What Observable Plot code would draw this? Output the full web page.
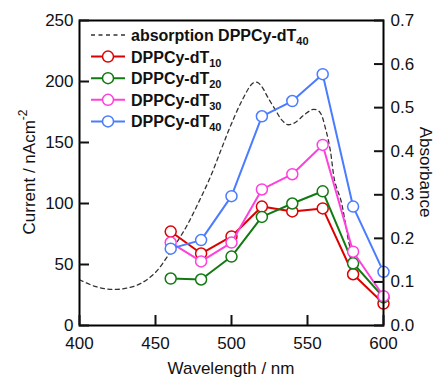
<!DOCTYPE html>
<html>
<head>
<meta charset="utf-8">
<script src="https://cdn.jsdelivr.net/npm/d3@7"></script>
<script src="https://cdn.jsdelivr.net/npm/@observablehq/plot@0.6"></script>
<style>
  html, body { margin: 0; padding: 0; background: #fff; }
  #chart { width: 435px; height: 380px; }
</style>
</head>
<body>
<div id="chart"></div>
<script>
// ---- data ----
const wavelengths = [460, 480, 500, 520, 540, 560, 580, 600];
const dT10 = [77, 59, 73, 97.5, 93.5, 96, 42, 18];
const dT20 = [38.5, 37.7, 56.5, 89, 100, 110, 51, 23];
const dT30 = [68, 52.5, 68, 111.5, 124, 148, 60.5, 24];
const dT40 = [63, 70, 106, 171.5, 184, 206, 97.5, 44];

const absWl  = [400, 410, 420, 430, 440, 450, 460, 470, 478, 486, 493, 499, 507, 514, 517, 520, 524, 529, 533, 537, 542, 548, 554, 558, 562, 565, 568, 572, 575, 578, 583];
const absVal = [0.105, 0.090, 0.083, 0.085, 0.096, 0.122, 0.170, 0.225, 0.280, 0.340, 0.402, 0.455, 0.517, 0.556, 0.558, 0.548, 0.523, 0.494, 0.472, 0.461, 0.466, 0.484, 0.496, 0.490, 0.450, 0.402, 0.330, 0.287, 0.234, 0.180, 0.140];

const xTicks = [400, 450, 500, 550, 600];
const yTicks = [0, 50, 100, 150, 200, 250];
const absTicks = [0, 0.1, 0.2, 0.3, 0.4, 0.5, 0.6, 0.7];

const seriesNames = ["10", "20", "30", "40"];
const seriesColors = ["#dd0000", "#127a12", "#ff40dc", "#4a7cff"];
const seriesValues = [dT10, dT20, dT30, dT40];

// ---- build ----
const k = 250 / 0.7; // absorbance -> current scale
const absRows = absWl.map((w, i) => ({w, a: absVal[i] * k}));

const marks = [
  Plot.line(absRows, {x: "w", y: "a", stroke: "#333", strokeWidth: 1.3, strokeDasharray: "4,3.5", curve: "catmull-rom"})
];
seriesValues.forEach((vals, s) => {
  const rows = wavelengths.map((w, i) => ({w, v: vals[i]}));
  marks.push(Plot.line(rows, {x: "w", y: "v", stroke: seriesColors[s], strokeWidth: 2}));
  marks.push(Plot.dot(rows, {x: "w", y: "v", r: 5.5, fill: "white", stroke: seriesColors[s], strokeWidth: 1.5}));
});
marks.push(
  Plot.frame({stroke: "black", strokeWidth: 2}),
  Plot.axisX({ticks: xTicks, tickSize: -10, tickPadding: 21, strokeWidth: 2, label: null, tickFormat: d => d}),
  Plot.axisY({ticks: yTicks, tickSize: -10, tickPadding: 16, strokeWidth: 2, label: null, tickFormat: d => d}),
  Plot.axisY(absTicks.map(t => t * k), {anchor: "right", tickSize: -10, tickPadding: 17, strokeWidth: 2, label: null, tickFormat: d => (d / k).toFixed(1)})
);

const chart = Plot.plot({
  width: 435,
  height: 380,
  marginLeft: 79,
  marginRight: 52,
  marginTop: 20,
  marginBottom: 55,
  x: {domain: [400, 600]},
  y: {domain: [0, 250]},
  style: {fontFamily: "'Liberation Sans', Arial, sans-serif", fontSize: "17px", color: "#111", background: "white"},
  marks
});
document.getElementById("chart").appendChild(chart);

// ---- axis titles and legend ----
const svg = d3.select(chart);
const font = "'Liberation Sans', Arial, sans-serif";

svg.append("text")
  .attr("x", 231).attr("y", 374)
  .attr("text-anchor", "middle")
  .style("font-family", font).style("font-size", "17px").attr("fill", "#111")
  .text("Wavelength / nm");

const yl = svg.append("text")
  .attr("transform", "translate(35,172) rotate(-90)")
  .attr("text-anchor", "middle")
  .style("font-family", font).style("font-size", "17px").attr("fill", "#111");
yl.append("tspan").text("Current / nAcm");
yl.append("tspan").attr("dy", -8).style("font-size", "12px").text("-2");

svg.append("text")
  .attr("transform", "translate(420,172) rotate(90)")
  .attr("text-anchor", "middle")
  .style("font-family", font).style("font-size", "17px").attr("fill", "#111")
  .text("Absorbance");

const legendLabels = ["absorption DPPCy-dT", "DPPCy-dT", "DPPCy-dT", "DPPCy-dT", "DPPCy-dT"];
const legendSubs = ["40", ...seriesNames];
const lg = svg.append("g");
legendLabels.forEach((lab, i) => {
  const y = 35 + i * 21.6;
  const row = lg.append("g").attr("transform", `translate(0,${y})`);
  if (i === 0) {
    row.append("line").attr("x1", 91).attr("x2", 125).attr("y1", 0).attr("y2", 0)
      .attr("stroke", "#333").attr("stroke-width", 1.3).attr("stroke-dasharray", "4,3.5");
  } else {
    const c = seriesColors[i - 1];
    row.append("line").attr("x1", 91).attr("x2", 125).attr("y1", 0).attr("y2", 0)
      .attr("stroke", c).attr("stroke-width", 2);
    row.append("circle").attr("cx", 108).attr("cy", 0).attr("r", 5.5)
      .attr("fill", "white").attr("stroke", c).attr("stroke-width", 1.5);
  }
  const t = row.append("text").attr("x", 131).attr("y", 6)
    .attr("text-anchor", "start")
    .style("font-family", font).style("font-size", "16px").style("font-weight", "bold").attr("fill", "#111");
  t.append("tspan").text(lab);
  t.append("tspan").attr("dy", 4).style("font-size", "11px").text(legendSubs[i]);
});
</script>
</body>
</html>
